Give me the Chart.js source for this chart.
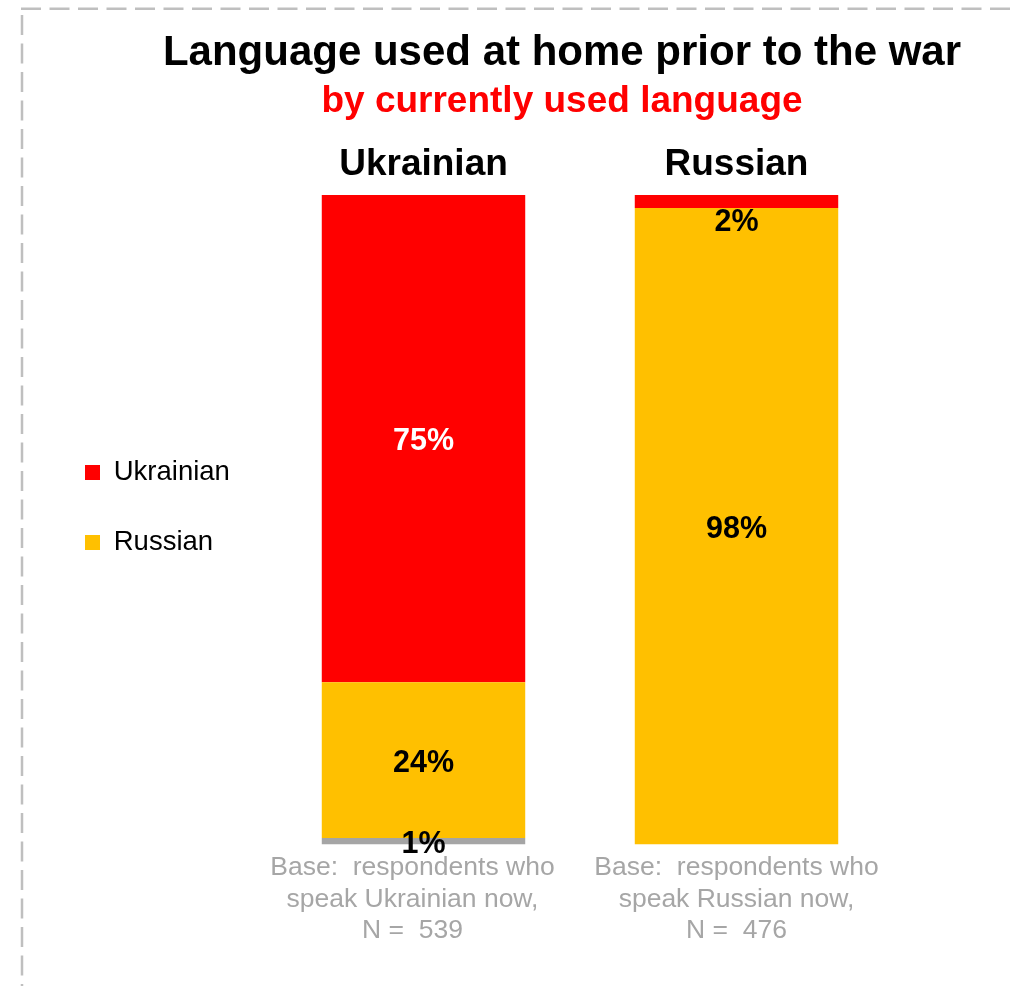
<!DOCTYPE html>
<html>
<head>
<meta charset="utf-8">
<title>Language used at home prior to the war</title>
<script src="https://cdn.jsdelivr.net/npm/chart.js@4.4.1/dist/chart.umd.min.js"></script>
<style>
  html, body { margin: 0; padding: 0; background: #ffffff; overflow: hidden; }
  canvas { display: block; }
</style>
</head>
<body>
<canvas id="chart" width="1016" height="986"></canvas>
<script>
// Groups: language respondents use now
const categories = ['Ukrainian', 'Russian'];

// Sample notes under each bar
const baseNotes = [
  ['Base:  respondents who   ', 'speak Ukrainian now,   ', 'N =  539   '],
  ['Base:  respondents who', 'speak Russian now,', 'N =  476']
];

// Share (%) by language used at home before the war
const ukrainianShare = [75, 2];
const russianShare = [24, 98];
const otherShare = [1, 0];

const FONT = "'Liberation Sans', Arial, sans-serif";
Chart.defaults.font.family = FONT;

// Dashed frame along the top and left edges
const frame = {
  id: 'frame',
  beforeDraw(chart) {
    const ctx = chart.ctx;
    ctx.save();
    ctx.strokeStyle = '#BFBFBF';
    ctx.lineWidth = 2.5;
    ctx.setLineDash([20, 8.5]);
    ctx.beginPath();
    ctx.moveTo(21, 8.7);
    ctx.lineTo(chart.width, 8.7);
    ctx.moveTo(22, 15);
    ctx.lineTo(22, chart.height);
    ctx.stroke();
    ctx.restore();
  }
};

// Puts the vertical legend at the far left, level with the bars' middle
const legendPlacement = {
  id: 'legendPlacement',
  afterLayout(chart) {
    const lg = chart.legend;
    if (!lg) return;
    lg.left = 42.5;
    lg.right = 300;
    lg.top = 150;
    lg.bottom = 865;
  }
};

// Percent labels in the middle of each segment
const valueLabels = {
  id: 'valueLabels',
  afterDatasetsDraw(chart) {
    const { ctx, chartArea } = chart;
    ctx.save();
    ctx.font = 'bold 30.5px ' + FONT;
    ctx.textAlign = 'center';
    ctx.textBaseline = 'middle';
    chart.data.datasets.forEach((ds, i) => {
      const meta = chart.getDatasetMeta(i);
      if (meta.hidden) return;
      meta.data.forEach((bar, j) => {
        const v = ds.data[j];
        if (!v) return;
        const mid = (bar.y + bar.base) / 2;
        const y = Math.max(mid, chartArea.top + 25);
        ctx.fillStyle = y === mid ? ds.labelColor : '#000000';
        ctx.fillText(v + '%', bar.x, y + 3);
      });
    });
    ctx.restore();
  }
};

new Chart(document.getElementById('chart'), {
  type: 'bar',
  data: {
    labels: categories,
    datasets: [
      { label: 'Other', data: otherShare, backgroundColor: '#A5A5A5', labelColor: '#000000' },
      { label: 'Russian', data: russianShare, backgroundColor: '#FFC000', labelColor: '#000000' },
      { label: 'Ukrainian', data: ukrainianShare, backgroundColor: '#FF0000', labelColor: '#FFFFFF' }
    ]
  },
  options: {
    responsive: false,
    animation: false,
    devicePixelRatio: 1,
    datasets: {
      bar: { barPercentage: 0.65, categoryPercentage: 1, borderWidth: 0 }
    },
    layout: { padding: { left: 130, right: 22, top: 10, bottom: 32 } },
    plugins: {
      title: {
        display: true,
        text: 'Language used at home prior to the war',
        color: '#000000',
        font: { size: 42, weight: 'bold' },
        padding: { top: 18, bottom: 0 }
      },
      subtitle: {
        display: true,
        text: 'by currently used language',
        color: '#FF0000',
        font: { size: 37, weight: 'bold' },
        padding: { top: 1, bottom: 9.8 }
      },
      legend: {
        position: 'left',
        maxWidth: 137,
        reverse: true,
        labels: {
          filter: (item) => item.datasetIndex !== 0,
          boxWidth: 15,
          boxHeight: 15,
          padding: 42.5,
          color: '#000000',
          font: { size: 27.5 }
        }
      },
      tooltip: { enabled: false }
    },
    scales: {
      x: {
        stacked: true,
        position: 'top',
        grid: { display: false, drawTicks: false },
        border: { display: false },
        ticks: {
          color: '#000000',
          font: { size: 37, weight: 'bold' },
          padding: 8.5,
          maxRotation: 0,
          autoSkip: false
        }
      },
      x2: {
        type: 'category',
        labels: baseNotes,
        position: 'bottom',
        offset: true,
        grid: { display: false, drawTicks: false },
        border: { display: false },
        ticks: {
          color: '#A6A6A6',
          font: { size: 26.5 },
          padding: 7,
          maxRotation: 0,
          autoSkip: false
        }
      },
      y: {
        stacked: true,
        min: 0,
        max: 100,
        position: 'right',
        grid: { display: false },
        border: { display: false },
        ticks: { display: false },
        afterFit: (scale) => { scale.width = 101; }
      }
    }
  },
  plugins: [frame, legendPlacement, valueLabels]
});
</script>
</body>
</html>
